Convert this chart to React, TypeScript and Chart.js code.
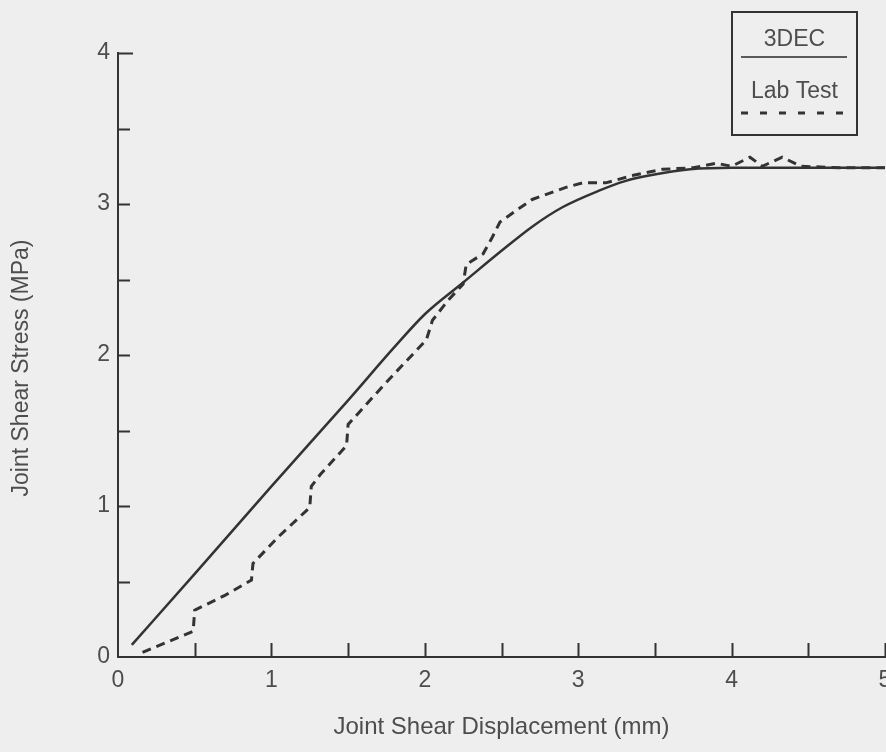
import { useEffect, useRef } from "react";
import { Chart, registerables } from "chart.js";

Chart.register(...registerables);

// 3DEC model response: shear displacement (mm) vs shear stress (MPa)
const modelX = [0.09, 0.5, 1.0, 1.5, 1.8, 2.0, 2.25, 2.5, 2.7, 2.9, 3.14, 3.3, 3.47, 3.73, 4.0, 5.0];
const modelY = [0.08, 0.55, 1.13, 1.7, 2.05, 2.27, 2.48, 2.69, 2.85, 2.98, 3.09, 3.15, 3.19, 3.23, 3.24, 3.24];

// Laboratory shear test record
const labX = [0.16, 0.3, 0.49, 0.5, 0.7, 0.87, 0.88, 1.05, 1.25, 1.26, 1.32, 1.49, 1.5, 1.75, 2.01, 2.05, 2.15, 2.25, 2.27, 2.38, 2.44, 2.49, 2.6, 2.7, 2.92, 3.03, 3.18, 3.36, 3.55, 3.75, 3.9, 4.0, 4.12, 4.2, 4.33, 4.45, 4.7, 5.0];
const labY = [0.03, 0.09, 0.17, 0.31, 0.41, 0.51, 0.62, 0.8, 0.99, 1.13, 1.21, 1.4, 1.54, 1.82, 2.1, 2.23, 2.36, 2.47, 2.6, 2.67, 2.78, 2.88, 2.96, 3.03, 3.11, 3.14, 3.14, 3.19, 3.23, 3.24, 3.27, 3.25, 3.31, 3.25, 3.31, 3.25, 3.24, 3.24];

const seriesNames = ["3DEC", "Lab Test"];
const xRange = [0, 5];
const yRange = [0, 4];
const tickStep = 0.5;
const xTitle = "Joint Shear Displacement (mm)";
const yTitle = "Joint Shear Stress (MPa)";

const INK = "#333333";
const TEXT = "#4d4d4d";
const FONT = "'Liberation Sans', Arial, sans-serif";

const toPoints = (xs: number[], ys: number[]) => xs.map((x, i) => ({ x, y: ys[i] }));

// Short tick marks drawn inward from both axes
const innerTicks = {
  id: "innerTicks",
  afterDraw(chart: any) {
    const { ctx, chartArea, scales } = chart;
    const xs = scales.x;
    const ys = scales.y;
    ctx.save();
    ctx.strokeStyle = INK;
    ctx.lineWidth = 2;
    ctx.beginPath();
    xs.ticks.forEach((t: any) => {
      if (t.value === xRange[0]) return;
      const px = Math.round(xs.getPixelForValue(t.value)) + 0.5;
      ctx.moveTo(px, chartArea.bottom);
      ctx.lineTo(px, chartArea.bottom - 14);
    });
    ys.ticks.forEach((t: any) => {
      if (t.value === yRange[0]) return;
      const py = Math.round(ys.getPixelForValue(t.value)) + 0.5;
      ctx.moveTo(chartArea.left, py);
      ctx.lineTo(chartArea.left + (t.value === yRange[1] ? 15 : 12), py);
    });
    ctx.stroke();

    // vertical axis title
    ctx.fillStyle = TEXT;
    ctx.font = `23px ${FONT}`;
    ctx.textAlign = "center";
    ctx.textBaseline = "middle";
    ctx.translate(22, 368);
    ctx.rotate(-Math.PI / 2);
    ctx.fillText(yTitle, 0, 0);
    ctx.restore();
  },
};

// Boxed legend with the label above each line sample
const boxedLegend = {
  id: "boxedLegend",
  afterDraw(chart: any) {
    const { ctx } = chart;
    const ds = chart.data.datasets;
    const left = 732;
    const top = 12;
    const w = 125;
    const h = 123;
    ctx.save();
    ctx.strokeStyle = INK;
    ctx.lineWidth = 2;
    ctx.strokeRect(left, top, w, h);
    ctx.fillStyle = TEXT;
    ctx.font = `23px ${FONT}`;
    ctx.textAlign = "center";
    ctx.textBaseline = "middle";
    const cx = left + w / 2;
    const rows = [
      { textY: 40, lineY: 57 },
      { textY: 92, lineY: 113 },
    ];
    ds.forEach((d: any, i: number) => {
      const r = rows[i];
      ctx.fillText(d.label, cx, r.textY);
      ctx.beginPath();
      ctx.setLineDash(i === 0 ? [] : [7, 12]);
      ctx.strokeStyle = i === 0 ? "#5a5a5a" : INK;
      ctx.lineWidth = i === 0 ? 2 : 3;
      ctx.moveTo(left + 9, r.lineY);
      ctx.lineTo(left + w - 10, r.lineY);
      ctx.stroke();
    });
    ctx.restore();
  },
};

const paperBackground = {
  id: "paperBackground",
  beforeDraw(chart: any) {
    const { ctx, width, height } = chart;
    ctx.save();
    ctx.fillStyle = "#eeeeee";
    ctx.fillRect(0, 0, width, height);
    ctx.restore();
  },
};

export default function App() {
  const canvasRef = useRef<HTMLCanvasElement | null>(null);

  useEffect(() => {
    const canvas = canvasRef.current;
    if (!canvas) return;
    const tickFont = { family: FONT, size: 23 };
    const chart = new Chart(canvas, {
      type: "line",
      data: {
        datasets: [
          {
            label: seriesNames[0],
            data: toPoints(modelX, modelY),
            borderColor: INK,
            borderWidth: 2.5,
            pointRadius: 0,
            cubicInterpolationMode: "monotone",
            fill: false,
          },
          {
            label: seriesNames[1],
            data: toPoints(labX, labY),
            borderColor: INK,
            borderWidth: 3,
            borderDash: [9, 6],
            pointRadius: 0,
            tension: 0,
            fill: false,
          },
        ],
      },
      options: {
        responsive: false,
        animation: false,
        layout: { padding: { left: 0, top: 53, right: 1, bottom: 0 } },
        plugins: {
          legend: { display: false },
          tooltip: { enabled: false },
        },
        scales: {
          x: {
            type: "linear",
            min: xRange[0],
            max: xRange[1],
            afterFit(s: any) {
              s.height = 95;
              s.paddingLeft = 0;
              s.paddingRight = 0;
            },
            ticks: {
              stepSize: tickStep,
              autoSkip: false,
              maxRotation: 0,
              padding: 10,
              color: TEXT,
              font: tickFont,
              callback: (v: any) => (Number.isInteger(v) ? String(v) : ""),
            },
            grid: { display: false, drawTicks: false },
            border: { display: true, color: INK, width: 2 },
            title: {
              display: true,
              text: xTitle,
              color: TEXT,
              font: { family: FONT, size: 24 },
              padding: { top: 0, bottom: 10 },
            },
          },
          y: {
            type: "linear",
            min: yRange[0],
            max: yRange[1],
            afterFit(s: any) {
              s.width = 118;
              s.paddingTop = 0;
              s.paddingBottom = 0;
            },
            ticks: {
              stepSize: tickStep,
              autoSkip: false,
              padding: 8,
              color: TEXT,
              font: tickFont,
              callback: (v: any) => (Number.isInteger(v) ? String(v) : ""),
            },
            grid: { display: false, drawTicks: false },
            border: { display: true, color: INK, width: 2 },
          },
        },
      },
      plugins: [paperBackground, innerTicks, boxedLegend],
    } as any);
    return () => chart.destroy();
  }, []);

  return (
    <div style={{ position: "absolute", left: 0, top: 0, width: 886, height: 752 }}>
      <canvas ref={canvasRef} width={886} height={752} />
    </div>
  );
}
